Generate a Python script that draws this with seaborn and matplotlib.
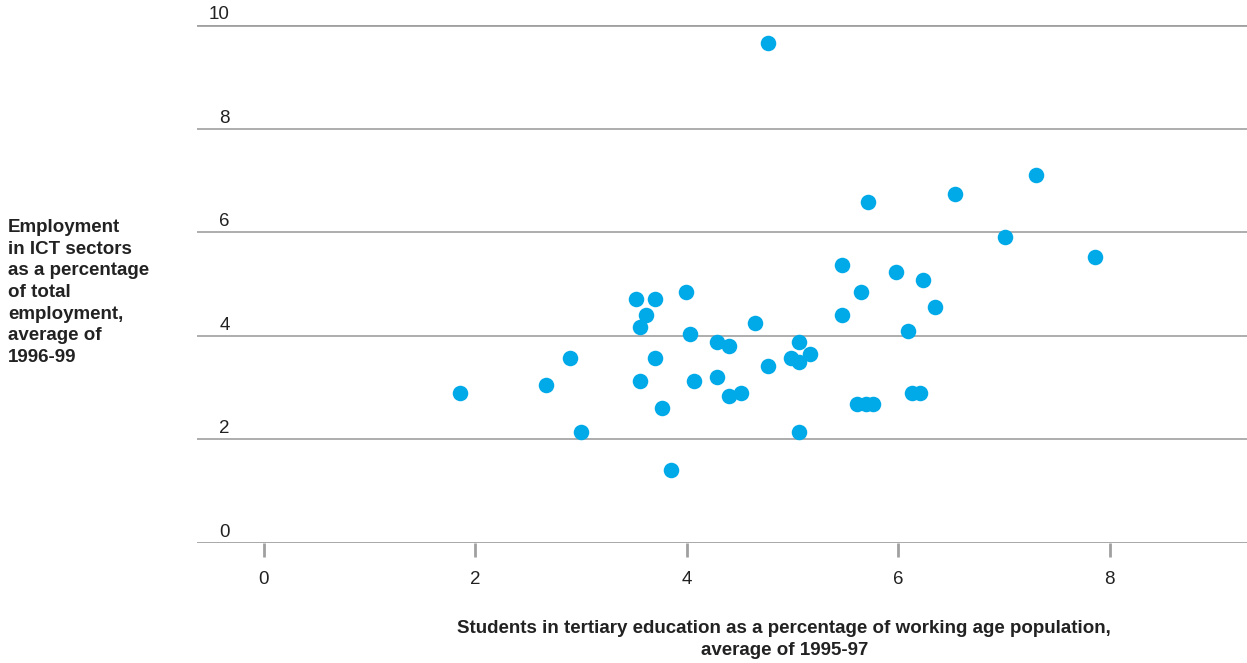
import numpy as np
import pandas as pd
import seaborn as sns
import matplotlib.pyplot as plt
import matplotlib.transforms as mtransforms

# students in tertiary education (% of working age pop), ICT employment (%)
students = [1.86, 2.67, 2.90, 3.00, 3.52, 3.70, 3.62, 3.56, 3.70, 3.56,
            3.77, 3.85, 3.99, 4.03, 4.07, 4.29, 4.40, 4.29, 4.40, 4.51,
            4.65, 4.77, 4.77, 5.06, 4.99, 5.06, 5.17, 5.06, 5.47, 5.47,
            5.65, 5.72, 5.61, 5.70, 5.76, 5.98, 6.09, 6.13, 6.21, 6.24,
            6.35, 6.54, 7.01, 7.30, 7.86]
ict_employment = [2.90, 3.05, 3.57, 2.14, 4.71, 4.71, 4.40, 4.17, 3.57, 3.13,
                  2.61, 1.41, 4.85, 4.03, 3.13, 3.88, 3.80, 3.20, 2.84, 2.90,
                  4.25, 3.42, 9.65, 3.88, 3.57, 3.49, 3.65, 2.14, 5.37, 4.40,
                  4.85, 6.58, 2.68, 2.68, 2.68, 5.23, 4.09, 2.90, 2.90, 5.08,
                  4.56, 6.74, 5.91, 7.10, 5.52]
x_ticks = [0, 2, 4, 6, 8]
y_ticks = [0, 2, 4, 6, 8, 10]

df = pd.DataFrame({"students": students, "ict": ict_employment})

sns.set_style("white")
plt.rcParams['font.family'] = ['Liberation Sans', 'DejaVu Sans']

fig = plt.figure(figsize=(12.47, 6.63), dpi=100)
ax = fig.add_axes([0.158, 0.181, 0.842, 0.781])

line_col = "#a0a0a0"
for yv in y_ticks[1:-1]:
    ax.axhline(yv, color=line_col, lw=1.2, zorder=1)
ax.axhline(10, color=line_col, lw=2, zorder=1)
ax.axhline(0, color=line_col, lw=2, zorder=1)

sns.scatterplot(data=df, x="students", y="ict", ax=ax, color="#00a9e8",
                s=125, linewidth=0, zorder=3, clip_on=False)

ax.set_xlim(-0.63, 9.3)
ax.set_ylim(0, 10)
for sp in ax.spines.values():
    sp.set_visible(False)

ax.set_xticks(x_ticks)
ax.set_xticklabels([str(v) for v in x_ticks], fontsize=13.5, color="#222222")
ax.tick_params(axis="x", length=10, width=2, color=line_col, pad=10, bottom=True)
ax.set_yticks([])

trans = mtransforms.blended_transform_factory(ax.transData, ax.transData)
for yv in y_ticks:
    ax.text(-0.32, yv + 0.04, str(yv), ha="right", va="bottom", fontsize=13.5,
            color="#222222", transform=trans)

ax.set_xlabel("")
ax.set_ylabel("")
fig.text(0.629, 0.036,
         "Students in tertiary education as a percentage of working age population,\naverage of 1995-97",
         ha="center", va="center", fontsize=13.5, fontweight="bold", color="#222222",
         linespacing=1.4)
fig.text(0.0064, 0.559,
         "Employment\nin ICT sectors\nas a percentage\nof total\nemployment,\naverage of\n1996-99",
         ha="left", va="center", fontsize=13.5, fontweight="bold", color="#222222",
         linespacing=1.36)

plt.savefig("out.png", dpi=100)
